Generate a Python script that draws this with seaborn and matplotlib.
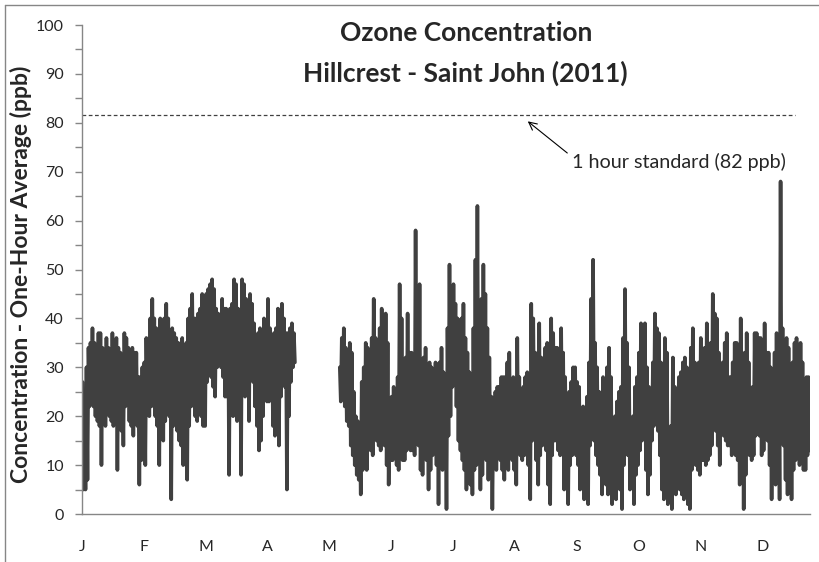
import pandas as pd
import matplotlib
matplotlib.use("Agg")
import matplotlib.pyplot as plt
import seaborn as sns
from matplotlib.lines import Line2D

# month labels on the category axis (Excel shows one every 31 days)
month_labels = ['J', 'F', 'M', 'A', 'M', 'J', 'J', 'A', 'S', 'O', 'N', 'D']

# daily highs / lows of the one-hour ozone average (ppb)
# None = no data (monitor down, late April to early May)
daily_high = [
    27, 22, 30, 34, 35, 38, 35, 33, 37, 37,
    34, 33, 36, 34, 33, 37, 35, 36, 34, 33,
    32, 37, 36, 34, 33, 34, 33, 33, 28, 28,
    30, 31, 36, 34, 40, 44, 40, 38, 36, 40,
    38, 40, 43, 40, 36, 38, 37, 36, 35, 34,
    36, 33, 35, 40, 42, 45, 40, 40, 41, 42,
    45, 43, 45, 46, 47, 48, 46, 42, 41, 40,
    44, 42, 42, 41, 42, 43, 48, 47, 42, 40,
    48, 47, 44, 42, 45, 43, 39, 36, 37, 38,
    37, 40, 39, 44, 38, 36, 37, 38, 42, 40,
    43, 40, 37, 37, 38, 39, 37,
    None, None, None, None, None, None, None, None, None, None, None,
    None, None, None, None, None, None, None, None, None, None, None,
    30, 36, 38, 34, 32, 35, 33, 25, 20, 19, 18,
    27, 30, 35, 34, 32, 36, 44, 36, 30, 38,
    42, 38, 41, 35, 23, 24, 26, 25, 28, 47,
    40, 31, 32, 41, 33, 33, 31, 58, 45, 47,
    30, 32, 34, 30, 31, 30, 29, 31, 30, 31,
    34, 29, 27, 38, 51, 45, 47, 43, 40, 38,
    40, 43, 36, 33, 29, 28, 38, 52, 63, 39,
    44, 51, 45, 38, 32, 24, 21, 25, 26, 26,
    28, 28, 28, 31, 33, 27, 28, 26, 36, 28,
    25, 26, 28, 29, 26, 43, 40, 33, 30, 39,
    32, 31, 34, 35, 32, 40, 37, 34, 34, 31,
    38, 33, 28, 24, 25, 27, 30, 30, 27, 26,
    21, 22, 20, 24, 31, 44, 52, 35, 30, 25,
    24, 28, 27, 30, 34, 28, 18, 20, 23, 25,
    26, 36, 46, 35, 30, 19, 20, 26, 28, 33,
    39, 38, 39, 30, 26, 25, 31, 41, 38, 37,
    31, 27, 36, 33, 16, 18, 32, 26, 23, 28,
    29, 31, 32, 30, 27, 34, 38, 31, 30, 31,
    36, 31, 34, 39, 29, 35, 45, 41, 40, 33,
    29, 31, 35, 37, 28, 28, 31, 35, 35, 32,
    40, 30, 33, 37, 31, 25, 26, 37, 37, 36,
    36, 31, 39, 33, 33, 30, 29, 33, 37, 32,
    68, 38, 28, 36, 34, 30, 31, 35, 36, 31,
    35, 31, 27, 28, 28,
]
daily_low = [
    5, 5, 7, 22, 24, 22, 20, 19, 18, 10,
    22, 18, 21, 20, 19, 18, 22, 9, 22, 17,
    14, 22, 25, 19, 18, 16, 19, 18, 6, 11,
    15, 10, 22, 20, 22, 24, 20, 18, 10, 20,
    15, 19, 22, 20, 3, 18, 20, 17, 15, 14,
    10, 14, 7, 18, 22, 24, 20, 19, 22, 20,
    18, 18, 27, 30, 28, 26, 24, 30, 32, 30,
    28, 24, 24, 8, 22, 20, 22, 19, 21, 8,
    28, 24, 25, 19, 30, 27, 22, 18, 13, 15,
    20, 25, 23, 23, 27, 18, 16, 20, 14, 24,
    28, 26, 5, 20, 27, 30, 31,
    None, None, None, None, None, None, None, None, None, None, None,
    None, None, None, None, None, None, None, None, None, None, None,
    23, 24, 22, 19, 18, 14, 12, 10, 8, 7, 4,
    9, 10, 9, 14, 13, 12, 17, 15, 14, 13,
    16, 14, 10, 6, 11, 11, 12, 10, 9, 12,
    11, 11, 13, 14, 13, 13, 12, 15, 14, 9,
    8, 12, 11, 5, 9, 12, 14, 10, 2, 10,
    9, 12, 1, 16, 20, 26, 29, 22, 15, 13,
    11, 9, 5, 7, 6, 4, 9, 10, 12, 5,
    8, 12, 11, 7, 10, 1, 10, 9, 12, 11,
    9, 7, 10, 9, 12, 11, 9, 6, 13, 12,
    11, 12, 13, 10, 3, 15, 16, 11, 6, 12,
    14, 16, 13, 6, 2, 12, 15, 15, 13, 12,
    13, 5, 9, 2, 10, 12, 14, 12, 10, 5,
    8, 3, 7, 2, 14, 16, 15, 12, 10, 8,
    4, 7, 6, 4, 8, 2, 6, 3, 7, 5,
    1, 10, 14, 12, 5, 6, 2, 8, 10, 13,
    15, 18, 9, 4, 8, 15, 18, 20, 17, 12,
    5, 3, 8, 2, 4, 1, 6, 4, 7, 5,
    4, 3, 5, 2, 1, 9, 11, 10, 9, 8,
    11, 11, 10, 11, 12, 14, 19, 17, 14, 10,
    17, 16, 15, 14, 14, 12, 13, 12, 11, 6,
    9, 1, 8, 13, 12, 11, 12, 16, 17, 16,
    12, 13, 17, 15, 10, 3, 9, 6, 8, 3,
    16, 14, 7, 4, 8, 3, 9, 11, 12, 10,
    11, 9, 9, 12, 13,
]
standard_ppb = 81.5

# long table: high then low inside each day, new segment after a data gap
rows = []
seg = 0
prev_missing = False
for d, (hi, lo) in enumerate(zip(daily_high, daily_low)):
    if hi is None:
        if not prev_missing:
            seg += 1
        prev_missing = True
        continue
    prev_missing = False
    rows.append((d + 0.25, hi, seg))
    rows.append((d + 0.75, lo, seg))
df = pd.DataFrame(rows, columns=['day', 'ppb', 'segment'])

sns.set_style('white')
plt.rcParams['font.family'] = ['Lato', 'DejaVu Sans']

fig = plt.figure(figsize=(8.2, 5.62), dpi=100)
ax = fig.add_axes([0.1, 0.0854, 0.8878, 0.8701])

sns.lineplot(data=df, x='day', y='ppb', units='segment', estimator=None,
             sort=False, color='#404040', linewidth=2.6, ax=ax)

# 1 hour standard
ax.hlines(standard_ppb, 0, 357.5, colors='#404040', linestyles=(0, (3, 2)), linewidth=0.9)
ax.annotate('1 hour standard (82 ppb)', xy=(223.5, 80.3), xytext=(245.5, 72.0),
            fontsize=14.2, va='center', ha='left',
            arrowprops=dict(arrowstyle='->', color='black', lw=0.8,
                            relpos=(0, 0.8), shrinkA=1, shrinkB=0))

ax.set_xlim(0, 365)
ax.set_ylim(0, 100)
ax.set_xticks([i * 31 for i in range(len(month_labels))])
ax.set_xticklabels(month_labels)
ax.set_yticks(range(0, 101, 10))
ax.set_yticks(range(5, 100, 10), minor=True)
ax.tick_params(axis='x', length=0, pad=19, labelsize=11.5)
ax.tick_params(axis='y', which='both', direction='out', length=5, width=1,
               color='#868686', pad=8, labelsize=11.5, left=True)
ax.set_xlabel('')
ax.set_ylabel('Concentration - One-Hour Average (ppb)', fontsize=16.5,
              fontweight='bold')
ax.yaxis.set_label_coords(-0.069, 0.49)
for side in ['top', 'right']:
    ax.spines[side].set_visible(False)
for side in ['left', 'bottom']:
    ax.spines[side].set_color('#868686')
    ax.spines[side].set_linewidth(1)

fig.text(0.568, 0.941, 'Ozone Concentration', ha='center', va='center',
         fontsize=19, fontweight='bold')
fig.text(0.568, 0.870, 'Hillcrest - Saint John (2011)', ha='center', va='center',
         fontsize=19, fontweight='bold')

# chart area border (left and top edges visible in the crop)
fig.add_artist(Line2D([5 / 820, 5 / 820], [0, 1 - 5 / 562], transform=fig.transFigure,
                      color='#868686', linewidth=1))
fig.add_artist(Line2D([5 / 820, 1], [1 - 5 / 562, 1 - 5 / 562], transform=fig.transFigure,
                      color='#868686', linewidth=1))

fig.savefig('out.png', dpi=100)
